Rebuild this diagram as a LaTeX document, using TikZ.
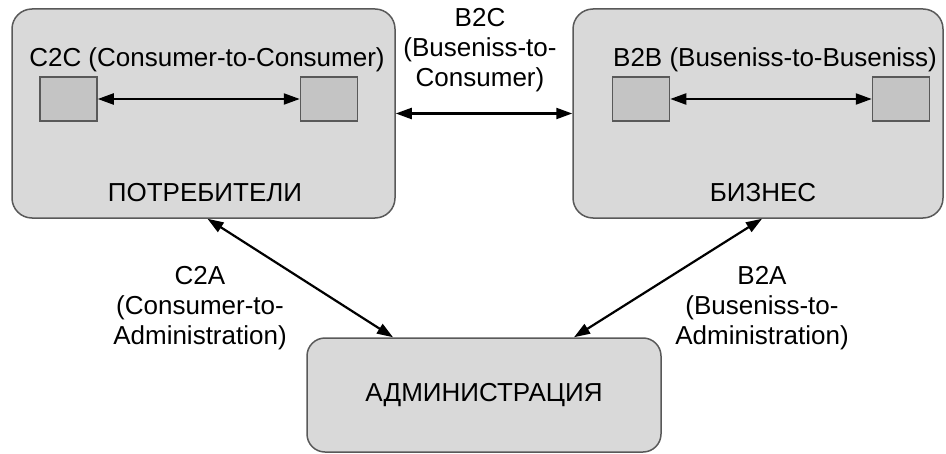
\documentclass[tikz,border=0pt]{standalone}
\usepackage{fontspec}
\setmainfont{Liberation Sans}
\usetikzlibrary{arrows.meta,positioning,calc}
\tikzset{
  zone/.style={draw=gray!70!black, fill=gray!30, rounded corners=10pt,
               line width=0.75pt, inner sep=0pt, align=center,
               font=\fontsize{13}{15}\selectfont},
  unit/.style={draw=gray!70!black, fill=gray!46, line width=0.75pt,
               minimum width=28.5pt, minimum height=22pt, inner sep=0pt},
  lbl/.style={align=center, inner sep=0pt, font=\fontsize{13}{15}\selectfont},
  link/.style={{Triangle[length=8pt,width=5.5pt]}-{Triangle[length=8pt,width=5.5pt]},
               line width=1.1pt},
}

\begin{document}
\begin{tikzpicture}[x=0.5pt, y=-0.5pt]
  \useasboundingbox (0,0) rectangle (946,454);
  % three parties
  \node[zone, minimum width=191.5pt, minimum height=104.5pt] (cons) at (203.5,113.5) {};
  \node[zone, minimum width=185pt, minimum height=104.5pt] (biz) at (758,113.5) {};
  \node[zone, minimum width=177pt, minimum height=57pt, rounded corners=9pt] (adm) at (484,395) {АДМИНИСТРАЦИЯ};
  % inside the boxes
  \node[lbl] (c2c) at (207,60) {C2C (Consumer-to-Consumer)};
  \node[lbl] (consname) at (205,193) {ПОТРЕБИТЕЛИ};
  \node[unit] (c1) at (68.5,99) {};
  \node[unit] (c2) at (329,99) {};
  \node[lbl] (b2b) at (775,60) {B2B (Buseniss-to-Buseniss)};
  \node[lbl] (bizname) at (763,193) {БИЗНЕС};
  \node[unit] (b1) at (641,99) {};
  \node[unit] (b2) at (901,99) {};
  % labels between the boxes
  \node[lbl] (b2c) at (480,50) {B2C\\(Buseniss-to-\\Consumer)};
  \node[lbl] (c2a) at (200,308) {C2A\\(Consumer-to-\\Administration)};
  \node[lbl] (b2a) at (762,308) {B2A\\(Buseniss-to-\\Administration)};
  % connections
  \draw[link] (c1) -- (c2);
  \draw[link] (b1) -- (b2);
  \draw[link] (cons) -- (biz);
  \draw[link] ([xshift=2pt]cons.south) -- ([xshift=-45.5pt]adm.north);
  \draw[link] ([xshift=2pt]biz.south) -- ([xshift=45pt]adm.north);
\end{tikzpicture}
\end{document}
